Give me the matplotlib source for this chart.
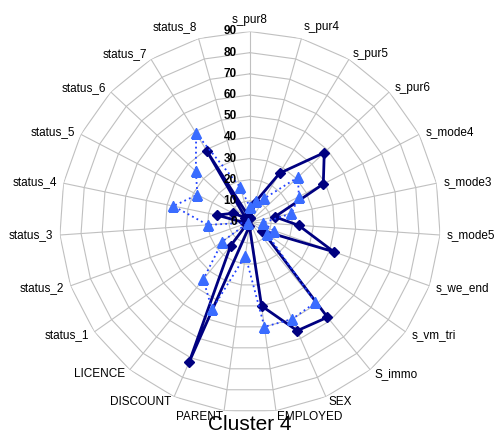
import numpy as np
import matplotlib
matplotlib.use("Agg")
import matplotlib.pyplot as plt

plt.rcParams['font.family'] = ['Liberation Sans', 'DejaVu Sans']

# Data (clockwise from the top)
categories = ['s_pur8', 's_pur4', 's_pur5', 's_pur6', 's_mode4', 's_mode3',
              's_mode5', 's_we_end', 's_vm_tri', 'S_immo', 'SEX', 'EMPLOYED',
              'PARENT', 'DISCOUNT', 'LICENCE', 'status_1', 'status_2',
              'status_3', 'status_4', 'status_5', 'status_6', 'status_7',
              'status_8']
series_dark = [2, 10, 27, 48, 39, 12, 23, 42, 7, 58, 56, 40,
               2, 72, 14.5, 2, 2, 3, 16, 9, 3, 39, 3]
series_light = [7, 10.5, 13, 31, 26, 20, 6, 12, 10, 49, 50, 50,
                16, 45, 35, 16, 1, 20, 37, 28, 35, 49, 17]
ticks = [0, 10, 20, 30, 40, 50, 60, 70, 80, 90]

n = len(categories)
theta = np.arange(n) * 2 * np.pi / n
closed = np.append(theta, theta[0])

W, H = 502, 433
cx, cy, rad = 250, 222, 190.5
fig = plt.figure(figsize=(W / 100, H / 100), dpi=100)
ax = fig.add_axes([(cx - rad) / W, (H - cy - rad) / H, 2 * rad / W, 2 * rad / H],
                  projection='polar')
ax.set_theta_zero_location('N')
ax.set_theta_direction(-1)
ax.set_ylim(0, ticks[-1])
ax.grid(False)
ax.spines['polar'].set_visible(False)
ax.set_xticks([])
ax.set_yticks([])

# polygon grid and spokes
grid_col = '#c0c0c0'
for r in ticks[1:]:
    ax.plot(closed, [r] * (n + 1), color=grid_col, lw=0.8, zorder=1)
for t in theta:
    ax.plot([t, t], [0, ticks[-1]], color=grid_col, lw=0.8, zorder=1)

# series
ax.plot(closed, np.append(series_dark, series_dark[0]), color='#000080', lw=2,
        marker='D', ms=5.5, zorder=3)
ax.plot(closed, np.append(series_light, series_light[0]), color='#2040ff', lw=1.3,
        ls=(0, (1, 1.8)), marker='^', ms=7, mfc='#3a6cff', mec='#3a6cff', zorder=4)

# value labels on the top spoke
for r in ticks:
    ax.annotate(str(r), xy=(0, r), xytext=(-13, 0), textcoords='offset pixels',
                ha='right', va='center', fontsize=8.5, fontweight='bold', zorder=5)

# category labels
for t, name in zip(theta, categories):
    s, c = np.sin(t), np.cos(t)
    ha = 'left' if s > 0.1 else ('right' if s < -0.1 else 'center')
    va = 'bottom' if c > 0.95 else 'center'
    ax.annotate(name, xy=(t, ticks[-1]), xytext=(7 * s, 6 * c),
                textcoords='offset pixels', ha=ha, va=va, fontsize=8.5,
                annotation_clip=False)

fig.text(0.497, 1 - 424 / H, 'Cluster 4', ha='center', va='center', fontsize=15)

fig.savefig('out.png', dpi=100)
